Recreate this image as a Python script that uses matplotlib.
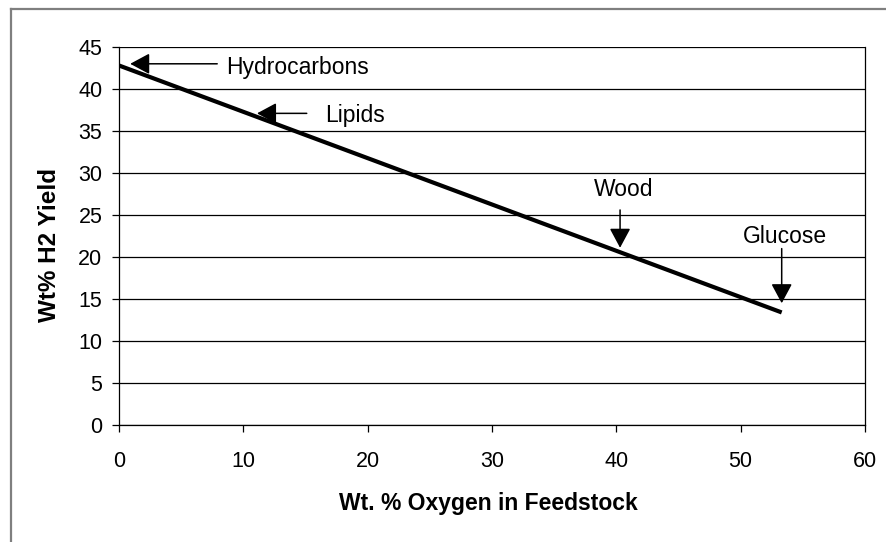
import matplotlib
matplotlib.use("Agg")
import matplotlib.pyplot as plt
from matplotlib.lines import Line2D

plt.rcParams['font.family'] = ['Liberation Sans', 'DejaVu Sans']

# Data
oxygen_pct = [0, 53.3]
h2_yield = [42.8, 13.4]

feedstocks = ["Hydrocarbons", "Lipids", "Wood", "Glucose"]
point_x = [0.9, 11.1, 40.3, 53.3]
point_y = [43.0, 37.1, 21.1, 14.5]
tail_x = [7.9, 15.1, 40.3, 53.3]
tail_y = [43.0, 37.1, 25.6, 21.0]
label_x = [8.6, 16.6, 40.6, 53.6]
label_y = [42.6, 36.9, 28.0, 22.4]
label_ha = ["left", "left", "center", "center"]

x_ticks = [0, 10, 20, 30, 40, 50, 60]
y_ticks = [0, 5, 10, 15, 20, 25, 30, 35, 40, 45]

fig = plt.figure(figsize=(8.86, 5.42), dpi=100)
W, H = 886, 542
ax = fig.add_axes([119 / W, 1 - 425 / H, (865 - 119) / W, (425 - 47) / H])

# outer frame (top & left visible)
fig.add_artist(Line2D([11 / W, 11 / W], [0, 1 - 9 / H], transform=fig.transFigure,
                      color="#7f7f7f", lw=1.6))
fig.add_artist(Line2D([11 / W, 1], [1 - 9 / H, 1 - 9 / H], transform=fig.transFigure,
                      color="#7f7f7f", lw=1.6))

ax.set_xlim(0, 60)
ax.set_ylim(0, 45)
ax.set_xticks(x_ticks)
ax.set_yticks(y_ticks)
ax.yaxis.grid(True, color="black", lw=0.9)
ax.set_axisbelow(True)
for s in ["left", "right", "bottom"]:
    ax.spines[s].set_color("black")
    ax.spines[s].set_linewidth(0.9)
ax.spines["top"].set_visible(False)
ax.tick_params(direction="out", length=5, width=0.9, labelsize=15.5, colors="black")
ax.tick_params(axis="y", pad=7)
ax.tick_params(axis="x", pad=14)

ax.plot(oxygen_pct, h2_yield, color="black", lw=3.0, solid_capstyle="butt")

for name, px, py, tx, ty, lx, ly, ha in zip(feedstocks, point_x, point_y, tail_x, tail_y,
                                             label_x, label_y, label_ha):
    ax.annotate("", xy=(px, py), xytext=(tx, ty),
                arrowprops=dict(arrowstyle="-|>,head_length=0.8,head_width=0.43",
                                mutation_scale=15, color="black", lw=1.1,
                                shrinkA=0, shrinkB=0))
    ax.text(lx, ly, name, ha=ha, va="center", fontsize=16.5)

ax.set_xlabel("Wt. % Oxygen in Feedstock", fontsize=16.5, fontweight="bold")
ax.xaxis.set_label_coords(0.495, -0.178)
ax.set_ylabel("Wt% H2 Yield", fontsize=17.5, fontweight="bold")
ax.yaxis.set_label_coords(-0.078, 0.475)

fig.savefig("out.png", dpi=100)
